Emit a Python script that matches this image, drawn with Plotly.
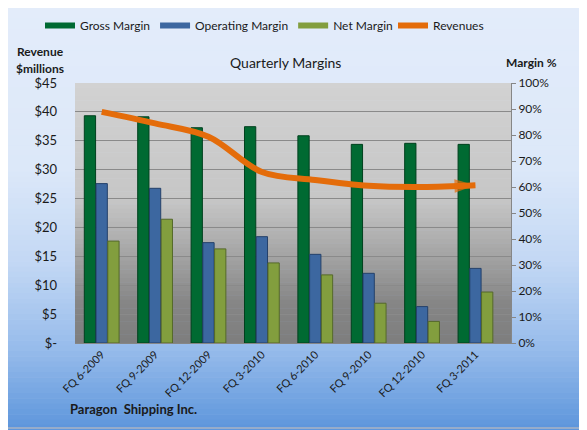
import plotly.graph_objects as go

quarters = ["FQ 6-2009", "FQ 9-2009", "FQ 12-2009", "FQ 3-2010",
            "FQ 6-2010", "FQ 9-2010", "FQ 12-2010", "FQ 3-2011"]
gross_margin = [0.874, 0.870, 0.828, 0.832, 0.797, 0.764, 0.768, 0.764]
operating_margin = [0.613, 0.595, 0.386, 0.409, 0.341, 0.268, 0.140, 0.287]
net_margin = [0.392, 0.476, 0.362, 0.308, 0.262, 0.153, 0.083, 0.196]
revenues = [40.0, 38.0, 35.7, 29.6, 28.2, 27.2, 27.0, 27.3]

rev_ticks = [0, 5, 10, 15, 20, 25, 30, 35, 40, 45]
rev_ticktext = ["$-", "$5", "$10", "$15", "$20", "$25", "$30", "$35", "$40", "$45"]

# page body keeps an 8px margin, so the figure is 8px smaller and shifted
W, H = 579, 422
ML, MR, MT, MB = 67, 76, 75, 87
FONT = "Lato"


def hex2rgb(h):
    return tuple(int(h[i:i + 2], 16) for i in (1, 3, 5))


def grad_color(stops, t):
    for (t0, c0), (t1, c1) in zip(stops, stops[1:]):
        if t0 <= t <= t1:
            f = (t - t0) / (t1 - t0) if t1 > t0 else 0
            a, b = hex2rgb(c0), hex2rgb(c1)
            return "rgb(%d,%d,%d)" % tuple(round(a[i] + (b[i] - a[i]) * f) for i in range(3))
    return stops[-1][1]


def band_shapes(x0, x1, y0, y1, stops, n=60):
    # top -> bottom gradient built from thin rectangles
    out = []
    for i in range(n):
        ya = y1 - (y1 - y0) * i / n
        yb = y1 - (y1 - y0) * (i + 1) / n
        out.append(dict(type="rect", xref="paper", yref="paper", layer="below",
                        x0=x0, x1=x1, y0=yb - 0.002, y1=ya,
                        fillcolor=grad_color(stops, (i + 0.5) / n), line=dict(width=0)))
    return out


pw, ph = W - ML - MR, H - MT - MB
paper_stops = [(0, "#e3ecfa"), (0.38, "#dce8f9"), (0.6, "#c3d8f4"),
               (0.81, "#96bbeb"), (1, "#5c95dc")]
plot_stops = [(0, "#d2d2d2"), (0.45, "#c6c6c6"), (0.62, "#ababab"),
              (0.85, "#858585"), (1, "#7e7e7e")]

shapes = band_shapes(-ML / pw, 1 + MR / pw, -MB / ph, 1 + MT / ph, paper_stops, 80)
shapes += band_shapes(0, 1, 0, 1, plot_stops, 60)
shapes.append(dict(type="rect", xref="paper", yref="paper", layer="below",
                   x0=-ML / pw - 0.05, x1=1 + (MR - 2) / pw,
                   y0=-(MB - 2) / ph, y1=1 + MT / ph + 0.05,
                   line=dict(color="#a9b4c4", width=1.5), fillcolor="rgba(0,0,0,0)"))

bar_colors = {"Gross Margin": ("#006a32", "#00401e"),
              "Operating Margin": ("#3c67a0", "#24406a"),
              "Net Margin": ("#829e3e", "#55692a")}

fig = go.Figure()
for name, vals in [("Gross Margin", gross_margin),
                   ("Operating Margin", operating_margin),
                   ("Net Margin", net_margin)]:
    fill, edge = bar_colors[name]
    fig.add_trace(go.Bar(x=quarters, y=vals, name=name, showlegend=False,
                         marker=dict(color=fill, line=dict(color=edge, width=1))))
# wide flat swatches in the legend, like the original
for name in bar_colors:
    fig.add_trace(go.Scatter(x=[None], y=[None], name=name, mode="lines",
                             line=dict(color=bar_colors[name][0], width=6)))
fig.add_trace(go.Scatter(x=quarters, y=revenues, name="Revenues", yaxis="y2",
                         legend="legend2",
                         mode="lines", line=dict(color="#e46c0a", width=6, shape="spline")))
fig.add_trace(go.Scatter(x=quarters[-2:], y=revenues[-2:], yaxis="y2", mode="markers",
                         showlegend=False, hoverinfo="skip",
                         marker=dict(symbol="arrow", angleref="previous", size=[0, 22],
                                     color="#e46c0a", line=dict(width=0))))

legend_style = dict(orientation="h", xref="container", yref="container",
                    xanchor="left", yanchor="top", bgcolor="rgba(0,0,0,0)",
                    font=dict(size=12, color="#1a1a1a"), traceorder="normal")

fig.update_layout(
    width=W, height=H,
    margin=dict(l=ML, r=MR, t=MT, b=MB, autoexpand=False),
    paper_bgcolor="#dce8f9", plot_bgcolor="rgba(0,0,0,0)",
    font=dict(family=FONT, size=12, color="#1a1a1a"),
    barmode="group", bargap=0.34, bargroupgap=0.04,
    shapes=shapes,
    showlegend=True,
    legend=dict(legend_style, x=32 / W, y=1 - 3 / H),
    legend2=dict(legend_style, x=385 / W, y=1 - 3 / H),
    xaxis=dict(type="category", tickangle=-45, showgrid=False, showline=True,
               linecolor="#868686", linewidth=1, ticks="",
               tickfont=dict(size=11, color="#1a1a1a")),
    yaxis=dict(side="right", range=[0, 1], dtick=0.1, tickformat=".0%",
               showgrid=False, zeroline=False, showline=True, linecolor="#868686",
               ticks="outside", ticklen=4, tickcolor="#868686",
               tickfont=dict(size=12, color="#1a1a1a")),
    yaxis2=dict(overlaying="y", side="left", range=[0, 45],
                tickvals=rev_ticks, ticktext=rev_ticktext,
                showgrid=True, gridcolor="#8a8a8a", gridwidth=1, zeroline=False,
                showline=False, ticks="", ticklabelstandoff=17,
                tickfont=dict(size=13, color="#1a1a1a")),
    annotations=[
        dict(text="Quarterly Margins", xref="paper", yref="paper", x=210 / pw,
             y=1 + 21 / ph, xanchor="center", yanchor="middle", showarrow=False,
             font=dict(size=14, color="#1a1a1a")),
        dict(text="<b>Revenue</b>", xref="paper", yref="paper", x=-35 / pw,
             y=1 + 31 / ph, xanchor="center", yanchor="middle", showarrow=False,
             font=dict(size=12)),
        dict(text="<b>$millions</b>", xref="paper", yref="paper", x=-35 / pw,
             y=1 + 15 / ph, xanchor="center", yanchor="middle", showarrow=False,
             font=dict(size=12)),
        dict(text="<b>Margin %</b>", xref="paper", yref="paper", x=1 + 20 / pw,
             y=1 + 21 / ph, xanchor="center", yanchor="middle", showarrow=False,
             font=dict(size=12)),
        dict(text="<b>Paragon  Shipping Inc.</b>", xref="paper", yref="paper",
             x=-7 / pw, y=-66 / ph, xanchor="left", yanchor="middle",
             showarrow=False, font=dict(size=13)),
    ],
)

fig.write_html("out.html")
